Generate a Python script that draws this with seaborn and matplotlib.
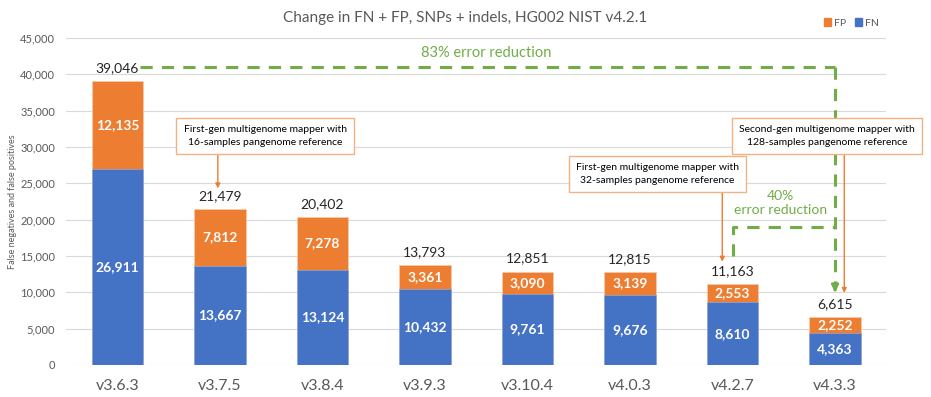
import matplotlib.pyplot as plt
import seaborn as sns
import pandas as pd
from matplotlib.patches import Patch

# data
versions = ["v3.6.3", "v3.7.5", "v3.8.4", "v3.9.3", "v3.10.4", "v4.0.3", "v4.2.7", "v4.3.3"]
fn_counts = [26911, 13667, 13124, 10432, 9761, 9676, 8610, 4363]
fp_counts = [12135, 7812, 7278, 3361, 3090, 3139, 2553, 2252]

df = pd.DataFrame({"version": versions, "FN": fn_counts, "FP": fp_counts})
df["total"] = df["FN"] + df["FP"]

BLUE = "#4472C4"
ORANGE = "#ED7D31"
GREEN = "#70AD47"
GREY = "#595959"
BOX_EDGE = "#F4B183"

sns.set_theme(style="whitegrid")
plt.rcParams["font.family"] = ["Lato", "DejaVu Sans"]

fig, ax = plt.subplots(figsize=(9.31, 3.97), dpi=100)
fig.subplots_adjust(left=0.071, right=0.952, bottom=0.081, top=0.904)

# stacked bars: total in orange, FN in blue drawn over it
sns.barplot(data=df, x="version", y="total", color=ORANGE, width=0.5, saturation=1,
            edgecolor="#F8CBAD", linewidth=0.5, ax=ax)
sns.barplot(data=df, x="version", y="FN", color=BLUE, width=0.5, saturation=1,
            edgecolor="#8FAADC", linewidth=0.5, ax=ax)

for i, row in df.iterrows():
    ax.text(i, row["FN"] / 2, f"{row['FN']:,}", ha="center", va="center",
            color="white", fontweight="bold", fontsize=10)
    ax.text(i, row["FN"] + row["FP"] / 2, f"{row['FP']:,}", ha="center", va="center",
            color="white", fontweight="bold", fontsize=10)
    ax.annotate(f"{row['total']:,}", (i, row["total"]), xytext=(0, 5),
                textcoords="offset points", ha="center", va="bottom",
                fontsize=10, color="#262626")

# axes styling
ax.set_ylim(0, 45000)
ax.set_xlim(-0.5, 7.5)
ax.set_yticks(range(0, 45001, 5000))
ax.yaxis.set_major_formatter(plt.FuncFormatter(lambda v, p: f"{v:,.0f}"))
ax.grid(axis="y", color="#D9D9D9", linewidth=0.8)
ax.grid(axis="x", visible=False)
for s in ax.spines.values():
    s.set_visible(False)
ax.tick_params(axis="y", length=0, pad=8, labelsize=8, labelcolor=GREY)
ax.tick_params(axis="x", length=0, pad=10, labelsize=11.5, labelcolor=GREY)
ax.set_xlabel("")
ax.set_ylabel("False negatives and false positives", fontsize=6.5, color=GREY, labelpad=2)

fig.text(0.5, 0.955, "Change in FN + FP, SNPs + indels, HG002 NIST v4.2.1",
         ha="center", va="center", fontsize=11, color=GREY)

ax.legend(handles=[Patch(color=ORANGE, label="FP"), Patch(color=BLUE, label="FN")],
          loc="lower right", bbox_to_anchor=(1.0, 1.01), ncol=2, frameon=False,
          fontsize=7.5, labelcolor=GREY, handlelength=0.7, handleheight=0.7,
          handletextpad=0.3, columnspacing=0.8, borderpad=0.2)

# 83% error reduction bracket
dash = (0, (4, 3))
ax.plot([0.22, 7.0], [41000, 41000], color=GREEN, lw=2.2, linestyle=dash, clip_on=False)
ax.plot([7.0, 7.0], [41000, 10600], color=GREEN, lw=2.2, linestyle=dash)
ax.annotate("", xy=(7.0, 9600), xytext=(7.0, 10800),
            arrowprops=dict(arrowstyle="-|>", color=GREEN, lw=2, mutation_scale=10))
ax.text(3.6, 42900, "83% error reduction", ha="center", va="center",
        color=GREEN, fontsize=10.5)

# 40% error reduction bracket
ax.plot([6.0, 6.0, 7.0], [15000, 19000, 19000], color=GREEN, lw=2.2, linestyle=dash)
ax.text(6.47, 22300, "40%\nerror reduction", ha="center", va="center",
        color=GREEN, fontsize=10, linespacing=1.2)

# callout boxes with arrows
notes = [
    ("First-gen multigenome mapper with\n16-samples pangenome reference", 1.44, 31500, 0.98, 29100, 24300),
    ("First-gen multigenome mapper with\n32-samples pangenome reference", 5.27, 26300, 5.90, 23900, 14200),
    ("Second-gen multigenome mapper with\n128-samples pangenome reference", 6.92, 31500, 7.09, 29100, 9900),
]
for txt, tx, ty, axx, y0, y1 in notes:
    ax.text(tx, ty, txt, ha="center", va="center", fontsize=7.5, color="black",
            linespacing=1.5, zorder=5, clip_on=False,
            bbox=dict(boxstyle="square,pad=0.7", facecolor="white", edgecolor=BOX_EDGE, lw=1))
    ax.annotate("", xy=(axx, y1), xytext=(axx, y0),
                arrowprops=dict(arrowstyle="-|>", color=ORANGE, lw=1, mutation_scale=7,
                                shrinkA=0, shrinkB=0))

plt.savefig("out.png", dpi=100)
